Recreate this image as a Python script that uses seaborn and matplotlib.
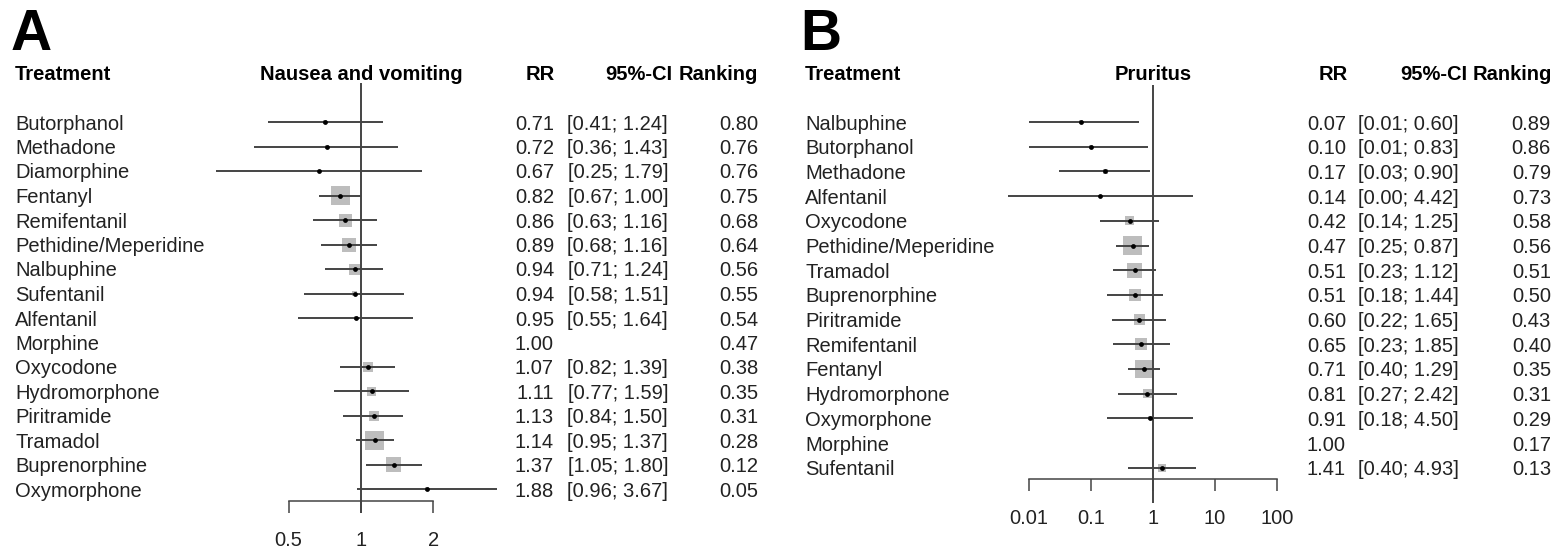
import numpy as np
import pandas as pd
import matplotlib
matplotlib.use("Agg")
import matplotlib.pyplot as plt
import matplotlib.transforms as mtransforms
import seaborn as sns

# panel A - nausea and vomiting
treat_a = ["Butorphanol", "Methadone", "Diamorphine", "Fentanyl", "Remifentanil",
           "Pethidine/Meperidine", "Nalbuphine", "Sufentanil", "Alfentanil", "Morphine",
           "Oxycodone", "Hydromorphone", "Piritramide", "Tramadol", "Buprenorphine",
           "Oxymorphone"]
rr_a = [0.71, 0.72, 0.67, 0.82, 0.86, 0.89, 0.94, 0.94, 0.95, 1.00, 1.07, 1.11, 1.13, 1.14, 1.37, 1.88]
lo_a = [0.41, 0.36, 0.25, 0.67, 0.63, 0.68, 0.71, 0.58, 0.55, np.nan, 0.82, 0.77, 0.84, 0.95, 1.05, 0.96]
hi_a = [1.24, 1.43, 1.79, 1.00, 1.16, 1.16, 1.24, 1.51, 1.64, np.nan, 1.39, 1.59, 1.50, 1.37, 1.80, 3.67]
rank_a = [0.80, 0.76, 0.76, 0.75, 0.68, 0.64, 0.56, 0.55, 0.54, 0.47, 0.38, 0.35, 0.31, 0.28, 0.12, 0.05]
weight_a = [4, 4, 3, 19, 13, 14, 11, 5, 4, 0, 10, 9, 10, 19, 15, 4]
ticks_a = [0.5, 1, 2]
ticklabels_a = ["0.5", "1", "2"]

# panel B - pruritus
treat_b = ["Nalbuphine", "Butorphanol", "Methadone", "Alfentanil", "Oxycodone",
           "Pethidine/Meperidine", "Tramadol", "Buprenorphine", "Piritramide", "Remifentanil",
           "Fentanyl", "Hydromorphone", "Oxymorphone", "Morphine", "Sufentanil"]
rr_b = [0.07, 0.10, 0.17, 0.14, 0.42, 0.47, 0.51, 0.51, 0.60, 0.65, 0.71, 0.81, 0.91, 1.00, 1.41]
lo_b = [0.01, 0.01, 0.03, 0.0046, 0.14, 0.25, 0.23, 0.18, 0.22, 0.23, 0.40, 0.27, 0.18, np.nan, 0.40]
hi_b = [0.60, 0.83, 0.90, 4.42, 1.25, 0.87, 1.12, 1.44, 1.65, 1.85, 1.29, 2.42, 4.50, np.nan, 4.93]
rank_b = [0.89, 0.86, 0.79, 0.73, 0.58, 0.56, 0.51, 0.50, 0.43, 0.40, 0.35, 0.31, 0.29, 0.17, 0.13]
weight_b = [4, 4, 5, 3, 9, 19, 15, 12, 11, 12, 18, 9, 4, 0, 8]
ticks_b = [0.01, 0.1, 1, 10, 100]
ticklabels_b = ["0.01", "0.1", "1", "10", "100"]

W, H = 1555, 551
FS = 14.5
LINE = "#444444"
TXT = "#222222"

sns.set_theme(style="white")
plt.rcParams["font.family"] = ["Liberation Sans", "DejaVu Sans"]

fig = plt.figure(figsize=(W / 100, H / 100), dpi=100)


def forest(letter, title, treat, rr, lo, hi, rank, weight, ticks, ticklabels, p):
    # p: pixel layout for this panel
    s = p["row"]
    ax = fig.add_axes([p["ax0"] / W, 0, (p["ax1"] - p["ax0"]) / W, 1])
    ax.set_facecolor("none")
    ax.set_xscale("log")

    df = pd.DataFrame({"treat": treat, "rr": rr, "lo": lo, "hi": hi,
                       "rank": rank, "w": weight})
    df["y"] = np.arange(len(df))

    ci = df.dropna(subset=["lo"])
    ax.hlines(ci["y"], ci["lo"], ci["hi"], color=LINE, lw=1.4, zorder=2)
    sq = df[df["w"] > 0]
    sns.scatterplot(x=sq["rr"], y=sq["y"], marker="s", s=(sq["w"] * 0.72) ** 2,
                    color="#bdbdbd", linewidth=0, ax=ax, zorder=1, legend=False)
    sns.scatterplot(x=sq["rr"], y=sq["y"], marker="o", s=12, color="black",
                    linewidth=0, ax=ax, zorder=3, legend=False)

    axis_row = (p["axis_y"] - p["y0"]) / s
    ax.vlines(1, (p["ref_top"] - p["y0"]) / s, (p["ref_bot"] - p["y0"]) / s,
              color=LINE, lw=1.4, zorder=2)

    # pixel -> data calibration
    ax.set_xlim(10 ** ((p["ax0"] - p["x1"]) / p["dec"]),
                10 ** ((p["ax1"] - p["x1"]) / p["dec"]))
    ax.set_ylim((H - p["y0"]) / s, -p["y0"] / s)

    for side in ["left", "right", "top"]:
        ax.spines[side].set_visible(False)
    sp = ax.spines["bottom"]
    sp.set_position(("data", axis_row))
    sp.set_bounds(ticks[0], ticks[-1])
    sp.set_color(LINE)
    sp.set_linewidth(1.1)
    ax.set_xticks(ticks)
    ax.set_xticklabels(ticklabels)
    ax.minorticks_off()
    ax.tick_params(axis="x", bottom=True, direction="out", length=8.6, width=1.1,
                   color=LINE, pad=13, labelsize=FS, labelcolor=TXT)
    ax.set_yticks([])
    ax.set_xlabel("")
    ax.set_ylabel("")

    tr = mtransforms.blended_transform_factory(fig.transFigure, ax.transData)
    kw = dict(transform=tr, fontsize=FS, va="center_baseline", clip_on=False)
    hdr = -2
    ax.text(p["name"] / W, hdr, "Treatment", ha="left", weight="bold", color="black", **kw)
    ax.text(p["x1"] / W, hdr, title, ha="center", weight="bold", color="black", **kw)
    ax.text(p["rr_h"] / W, hdr, "RR", ha="right", weight="bold", color="black", **kw)
    ax.text(p["ci_h"] / W, hdr, "95%-CI", ha="right", weight="bold", color="black", **kw)
    ax.text(p["rk_h"] / W, hdr, "Ranking", ha="right", weight="bold", color="black", **kw)

    for _, r in df.iterrows():
        ax.text(p["name"] / W, r["y"], r["treat"], ha="left", color=TXT, **kw)
        ax.text(p["rr"] / W, r["y"], f"{r['rr']:.2f}", ha="right", color=TXT, **kw)
        if not np.isnan(r["lo"]):
            ax.text(p["ci"] / W, r["y"], f"[{r['lo']:.2f}; {r['hi']:.2f}]",
                    ha="right", color=TXT, **kw)
        ax.text(p["rk"] / W, r["y"], f"{r['rank']:.2f}", ha="right", color=TXT, **kw)

    fig.text(p["letter"] / W, 1 - 8 / H, letter, ha="left", va="top",
             fontsize=41, weight="bold", color="black")


forest("A", "Nausea and vomiting", treat_a, rr_a, lo_a, hi_a, rank_a, weight_a,
       ticks_a, ticklabels_a,
       dict(row=24.5, y0=122, ax0=190, ax1=520, x1=361, dec=240.8, axis_y=501,
            ref_top=83, ref_bot=513, name=15, rr=554, ci=668, rk=758,
            rr_h=555, ci_h=672, rk_h=758, letter=11))

forest("B", "Pruritus", treat_b, rr_b, lo_b, hi_b, rank_b, weight_b,
       ticks_b, ticklabels_b,
       dict(row=24.7, y0=122, ax0=1000, ax1=1300, x1=1153, dec=62, axis_y=479,
            ref_top=85, ref_bot=503, name=805, rr=1346, ci=1459, rk=1551,
            rr_h=1348, ci_h=1467, rk_h=1552, letter=800))

fig.savefig("out.png", dpi=100)
